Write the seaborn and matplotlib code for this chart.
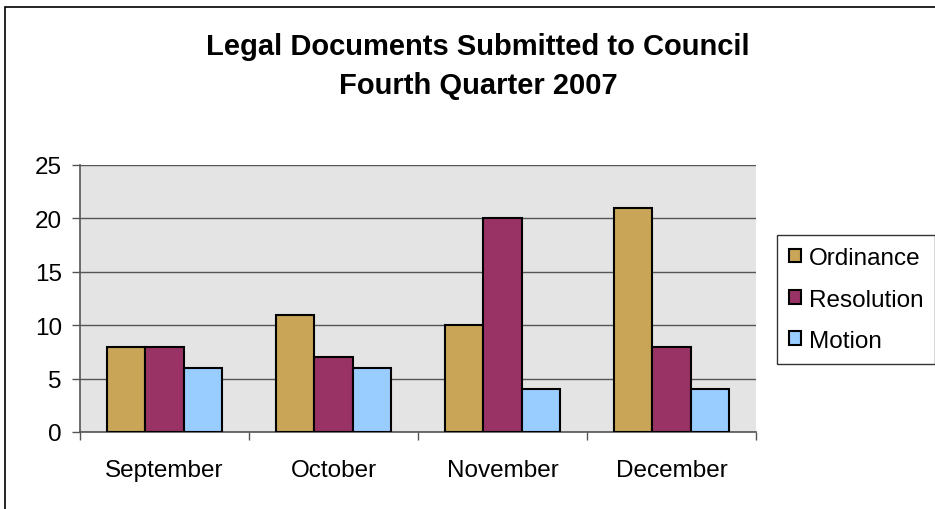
import matplotlib
matplotlib.use("Agg")
import matplotlib.pyplot as plt
import seaborn as sns
import pandas as pd
from matplotlib.patches import Rectangle

months = ["September", "October", "November", "December"]
series = ["Ordinance", "Resolution", "Motion"]
ordinance = [8, 11, 10, 21]
resolution = [8, 7, 20, 8]
motion = [6, 6, 4, 4]
colors = ["#C9A557", "#993366", "#99CCFF"]
title_lines = ["Legal Documents Submitted to Council", "Fourth Quarter 2007"]

df = pd.DataFrame({
    "Month": months * 3,
    "Type": [s for s in series for _ in months],
    "Count": ordinance + resolution + motion,
})

sns.set_theme(style="white")
plt.rcParams["font.family"] = ["Liberation Sans", "DejaVu Sans"]
plt.rcParams["text.color"] = "black"
plt.rcParams["xtick.color"] = "black"
plt.rcParams["ytick.color"] = "black"

fig = plt.figure(figsize=(9.35, 5.1), dpi=100)
ax = fig.add_axes([80 / 935, 1 - 433 / 510, 676 / 935, 267 / 510])
ax.set_facecolor("#E4E4E4")

sns.barplot(data=df, x="Month", y="Count", hue="Type", order=months,
            hue_order=series, palette=colors, width=0.675,
            edgecolor="black", linewidth=1.5, saturation=1, ax=ax, zorder=3)

ax.set_xlim(-0.5, 3.5)
ax.set_ylim(0, 25)
ax.set_yticks(range(0, 26, 5))
ax.yaxis.grid(True, color="#555555", linewidth=1.0, zorder=0)
ax.set_axisbelow(True)
ax.set_xlabel("")
ax.set_ylabel("")

# category boundary ticks, labels centred under each group
ax.set_xticks([-0.5, 0.5, 1.5, 2.5, 3.5])
ax.set_xticklabels([])
ax.set_xticks(range(len(months)), minor=True)
ax.set_xticklabels(months, minor=True, fontsize=17.5)
ax.tick_params(axis="x", which="major", direction="out", length=6,
               width=1, color="#555555", bottom=True)
ax.tick_params(axis="x", which="minor", length=0, pad=19.5, colors="black")
ax.tick_params(axis="y", direction="out", length=6, width=1,
               color="#555555", left=True, labelsize=17.5, pad=7,
               labelcolor="black")

for side in ["top", "right"]:
    ax.spines[side].set_visible(False)
for side in ["left", "bottom"]:
    ax.spines[side].set_color("#555555")
    ax.spines[side].set_linewidth(1.2)

handles, labels = ax.get_legend_handles_labels()
ax.legend(handles, labels, loc="upper left",
          bbox_to_anchor=(777 / 935, 1 - 236 / 510), bbox_transform=fig.transFigure,
          frameon=True, fancybox=False, edgecolor="black", fontsize=17.5,
          handlelength=0.5, handleheight=0.5, handletextpad=0.3,
          labelspacing=0.8, borderpad=0.5, borderaxespad=0)
ax.get_legend().get_frame().set_linewidth(1.0)

fig.text(478 / 935, 1 - 47 / 510, title_lines[0], ha="center", va="center",
         fontsize=21, fontweight="bold")
fig.text(478 / 935, 1 - 86 / 510, title_lines[1], ha="center", va="center",
         fontsize=21, fontweight="bold")

fig.patches.append(Rectangle((5 / 935, -0.1), 1.2, 1 - 8 / 510 + 0.1,
                             transform=fig.transFigure, fill=False,
                             edgecolor="black", linewidth=1.2))

fig.savefig("out.png", dpi=100)
